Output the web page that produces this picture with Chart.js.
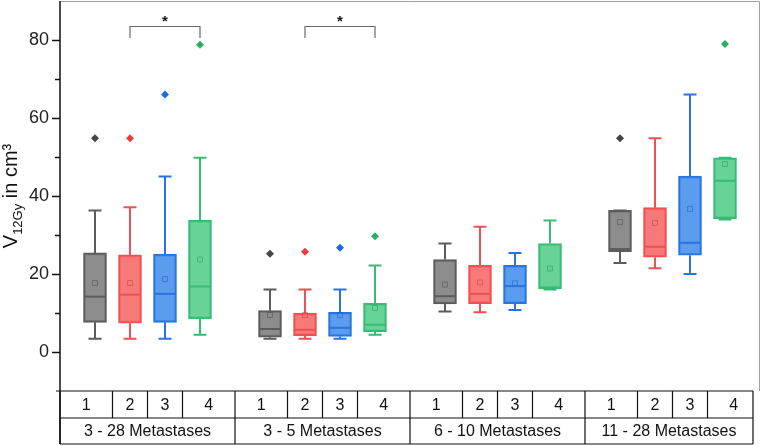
<!DOCTYPE html>
<html>
<head>
<meta charset="utf-8">
<script src="https://cdn.jsdelivr.net/npm/chart.js@4.4.1/dist/chart.umd.min.js"></script>
<style>
    html, body { margin: 0; padding: 0; background: #fff; }
    #contenedor { width: 762px; height: 446px; }
</style>
</head>
<body>
<div id="contenedor"><canvas id="GB" width="762" height="446"></canvas></div>
<script>
//
// DATOS
//
var grupos = ["3 - 28 Metastases", "3 - 5 Metastases", "6 - 10 Metastases", "11 - 28 Metastases"];
var subgrupos = ["1", "2", "3", "4"];
var ticksY = [0, 20, 40, 60, 80];
var ticksMenores = [10, 30, 50, 70];

// una fila por subgrupo (1..4), una columna por grupo
var minimos = [
    [3.4, 3.4, 10.4, 22.8],
    [3.4, 3.4, 10.2, 21.5],
    [3.4, 3.4, 10.8, 20.0],
    [4.4, 4.4, 16.0, 34.0]
];
var cuartil1 = [
    [7.6, 3.8, 12.3, 25.7],
    [7.4, 4.2, 12.4, 24.3],
    [7.6, 4.0, 12.4, 24.8],
    [8.5, 5.2, 16.2, 34.2]
];
var medianas = [
    [14.2, 5.9, 14.3, 26.4],
    [14.7, 5.7, 14.9, 27.0],
    [14.9, 6.2, 16.9, 28.0],
    [16.8, 7.0, 16.5, 43.9]
];
var cuartil3 = [
    [25.4, 10.6, 23.7, 36.3],
    [24.9, 10.0, 22.2, 37.0],
    [25.1, 10.2, 22.2, 45.1],
    [33.8, 12.5, 27.8, 49.8]
];
var maximos = [
    [36.3, 16.0, 27.8, 36.3],
    [37.1, 16.0, 32.1, 54.8],
    [45.0, 16.0, 25.4, 66.0],
    [49.8, 22.2, 33.7, 49.8]
];
var medias = [
    [17.7, 9.5, 17.3, 33.3],
    [17.7, 9.5, 17.8, 33.1],
    [18.7, 9.5, 17.6, 36.7],
    [23.7, 11.3, 21.4, 48.2]
];
var atipicos = [
    [[54.8], [25.2], [], [54.8]],
    [[54.8], [25.7], [], []],
    [[66.0], [26.7], [], []],
    [[78.8], [29.7], [], [79.0]]
];
// comparaciones significativas: [subgrupo a, subgrupo b] dentro de cada grupo
var significancia = [
    { grupo: 0, desde: 1, hasta: 3, nivel: 83.5 },
    { grupo: 1, desde: 1, hasta: 3, nivel: 83.5 }
];

var rellenos = ["rgba(128,128,128,0.9)", "rgba(246,106,106,0.9)", "rgba(72,145,235,0.9)", "rgba(86,206,140,0.9)"];
var bordes = ["#5c5c5c", "#f05050", "#2a74e0", "#38bb74"];
var medColores = ["rgba(80,80,80,0.55)", "rgba(200,60,60,0.5)", "rgba(30,90,190,0.5)", "rgba(40,150,90,0.5)"];
var puntos = ["#454545", "#f03a3a", "#1d6ae4", "#23b263"];

var FUENTE = "'Liberation Sans', Arial, sans-serif";

FNPosicion = function (s, g) {
    return g * 5 + s + 1;
}

//
// PLUGIN CAJAS (bigotes y medianas)
//
var pluginCajas = {
    id: 'cajas',
    beforeDatasetsDraw: function (chart) {
        var ctx = chart.ctx, x = chart.scales.x, y = chart.scales.y;
        ctx.save();
        ctx.lineWidth = 2;
        for (var s = 0; s < subgrupos.length; s++) {
            ctx.strokeStyle = bordes[s];
            for (var g = 0; g < grupos.length; g++) {
                var px = x.getPixelForValue(FNPosicion(s, g));
                var yMin = y.getPixelForValue(minimos[s][g]);
                var yMax = y.getPixelForValue(maximos[s][g]);
                ctx.beginPath();
                ctx.moveTo(px, yMin); ctx.lineTo(px, y.getPixelForValue(cuartil1[s][g]));
                ctx.moveTo(px, yMax); ctx.lineTo(px, y.getPixelForValue(cuartil3[s][g]));
                ctx.moveTo(px - 6.5, yMin); ctx.lineTo(px + 6.5, yMin);
                ctx.moveTo(px - 6.5, yMax); ctx.lineTo(px + 6.5, yMax);
                ctx.stroke();
            }
        }
        ctx.restore();
    },
    afterDatasetsDraw: function (chart) {
        var ctx = chart.ctx, x = chart.scales.x, y = chart.scales.y;
        ctx.save();
        ctx.lineWidth = 2;
        for (var s = 0; s < subgrupos.length; s++) {
            ctx.strokeStyle = bordes[s];
            for (var g = 0; g < grupos.length; g++) {
                var px = x.getPixelForValue(FNPosicion(s, g));
                var py = y.getPixelForValue(medianas[s][g]);
                ctx.beginPath();
                ctx.moveTo(px - 11, py); ctx.lineTo(px + 11, py);
                ctx.stroke();
            }
        }
        ctx.restore();
    }
};

//
// PLUGIN MARCO, EJES, TABLA Y TITULO
//
var pluginMarco = {
    id: 'marco',
    afterDraw: function (chart) {
        var ctx = chart.ctx, x = chart.scales.x, y = chart.scales.y, a = chart.chartArea;
        var fila1 = a.bottom + 27, fila2 = a.bottom + 53;
        ctx.save();

        // marco gris superior y derecho
        ctx.strokeStyle = "#a0a0a0";
        ctx.lineWidth = 1;
        ctx.beginPath();
        ctx.moveTo(a.left, a.top + 0.5); ctx.lineTo(a.right - 0.5, a.top + 0.5); ctx.lineTo(a.right - 0.5, a.bottom);
        ctx.stroke();

        // eje y con marcas
        ctx.strokeStyle = "#111";
        ctx.lineWidth = 1.5;
        ctx.beginPath();
        ctx.moveTo(a.left, a.top); ctx.lineTo(a.left, fila2);
        ticksY.forEach(function (v) {
            var py = Math.round(y.getPixelForValue(v)) + 0.5;
            ctx.moveTo(a.left - 8, py); ctx.lineTo(a.left, py);
        });
        ticksMenores.forEach(function (v) {
            var py = Math.round(y.getPixelForValue(v)) + 0.5;
            ctx.moveTo(a.left - 5, py); ctx.lineTo(a.left, py);
        });
        ctx.stroke();

        // tabla de categorias
        var fin = x.getPixelForValue(19.8);
        ctx.lineWidth = 1.2;
        ctx.beginPath();
        ctx.moveTo(a.left - 4, a.bottom); ctx.lineTo(fin, a.bottom);
        ctx.moveTo(a.left, fila1); ctx.lineTo(fin, fila1);
        ctx.moveTo(a.left, fila2); ctx.lineTo(fin, fila2);
        ctx.moveTo(fin, a.bottom); ctx.lineTo(fin, fila2);
        for (var g = 0; g < grupos.length; g++) {
            var x0 = x.getPixelForValue(g * 5);
            ctx.moveTo(x0, a.bottom); ctx.lineTo(x0, fila2);
            [1.5, 2.5, 3.5].forEach(function (d) {
                var xd = x.getPixelForValue(g * 5 + d);
                ctx.moveTo(xd, a.bottom); ctx.lineTo(xd, fila1);
            });
        }
        ctx.stroke();

        ctx.fillStyle = "#111";
        ctx.font = "16px " + FUENTE;
        ctx.textAlign = "center";
        ctx.textBaseline = "middle";
        var limites = [0, 1.5, 2.5, 3.5, 5];
        for (var g = 0; g < grupos.length; g++) {
            for (var s = 0; s < subgrupos.length; s++) {
                var xa = g * 5 + limites[s], xb = g * 5 + limites[s + 1];
                ctx.fillText(subgrupos[s], x.getPixelForValue((xa + xb) / 2), (a.bottom + fila1) / 2 + 1);
            }
            var xf = g == grupos.length - 1 ? 19.8 : g * 5 + 5;
            ctx.fillText(grupos[g], x.getPixelForValue((g * 5 + xf) / 2), (fila1 + fila2) / 2 + 1);
        }

        // corchetes de significancia
        significancia.forEach(function (c) {
            var xa = x.getPixelForValue(FNPosicion(c.desde, c.grupo));
            var xb = x.getPixelForValue(FNPosicion(c.hasta, c.grupo));
            var yt = Math.round(y.getPixelForValue(c.nivel)) + 0.5;
            var yl = y.getPixelForValue(c.nivel - 3);
            ctx.strokeStyle = "#6a6a6a";
            ctx.lineWidth = 1.2;
            ctx.beginPath();
            ctx.moveTo(xa, yl); ctx.lineTo(xa, yt); ctx.lineTo(xb, yt); ctx.lineTo(xb, yl);
            ctx.stroke();
            ctx.fillStyle = "#111";
            ctx.font = "bold 15px " + FUENTE;
            ctx.textBaseline = "alphabetic";
            ctx.fillText("*", (xa + xb) / 2, yt - 1);
        });

        // titulo eje y: V12Gy in cm³
        ctx.translate(17, (a.top + a.bottom) / 2);
        ctx.rotate(-Math.PI / 2);
        ctx.textAlign = "left";
        ctx.textBaseline = "alphabetic";
        ctx.fillStyle = "#111";
        var fGrande = "20px " + FUENTE, fChica = "13px " + FUENTE;
        ctx.font = fGrande; var w1 = ctx.measureText("V").width;
        ctx.font = fChica; var w2 = ctx.measureText("12Gy").width;
        ctx.font = fGrande; var w3 = ctx.measureText(" in cm³").width;
        var x1 = -(w1 + w2 + w3) / 2;
        ctx.font = fGrande; ctx.fillText("V", x1, 0);
        ctx.font = fChica; ctx.fillText("12Gy", x1 + w1, 5);
        ctx.font = fGrande; ctx.fillText(" in cm³", x1 + w1 + w2, 0);

        ctx.restore();
    }
};

//
// DATASETS
//
var datasets = [];
for (var s = 0; s < subgrupos.length; s++) {
    datasets.push({
        type: 'bar',
        label: subgrupos[s],
        data: grupos.map(function (nombre, g) {
            return { x: FNPosicion(s, g), y: [cuartil1[s][g], cuartil3[s][g]] };
        }),
        backgroundColor: rellenos[s],
        borderColor: bordes[s],
        borderWidth: 2,
        borderSkipped: false,
        barThickness: 23,
        grouped: false,
        order: 2
    });
}
for (var s = 0; s < subgrupos.length; s++) {
    datasets.push({
        type: 'scatter',
        label: 'media ' + subgrupos[s],
        data: grupos.map(function (nombre, g) {
            return { x: FNPosicion(s, g), y: medias[s][g] };
        }),
        pointStyle: 'rect',
        pointRadius: 3.5,
        borderWidth: 1,
        borderColor: medColores[s],
        backgroundColor: 'transparent',
        order: 1
    });
    var pts = [];
    atipicos[s].forEach(function (lista, g) {
        lista.forEach(function (v) { pts.push({ x: FNPosicion(s, g), y: v }); });
    });
    datasets.push({
        type: 'scatter',
        label: 'atipicos ' + subgrupos[s],
        data: pts,
        pointStyle: 'rectRot',
        pointRadius: 4,
        borderWidth: 0,
        backgroundColor: puntos[s],
        order: 1
    });
}

new Chart(document.getElementById("GB"), {
    type: 'bar',
    data: { datasets: datasets },
    plugins: [pluginCajas, pluginMarco],
    options: {
        responsive: false,
        animation: false,
        events: [],
        layout: { autoPadding: false, padding: { top: 1, right: 2, bottom: 55, left: 0 } },
        plugins: {
            legend: { display: false },
            tooltip: { enabled: false },
            title: { display: false }
        },
        scales: {
            x: { type: 'linear', min: 0, max: 20, offset: false, display: false },
            y: {
                min: -10,
                max: 90,
                afterBuildTicks: function (scale) {
                    scale.ticks = ticksY.map(function (v) { return { value: v }; });
                },
                afterFit: function (scale) {
                    scale.width = 60;
                    scale.paddingTop = 0;
                    scale.paddingBottom = 0;
                },
                grid: { display: false, drawTicks: false },
                border: { display: false },
                ticks: {
                    padding: 11,
                    color: "#222",
                    font: { family: FUENTE, size: 18 }
                }
            }
        }
    }
});
</script>
</body>
</html>
